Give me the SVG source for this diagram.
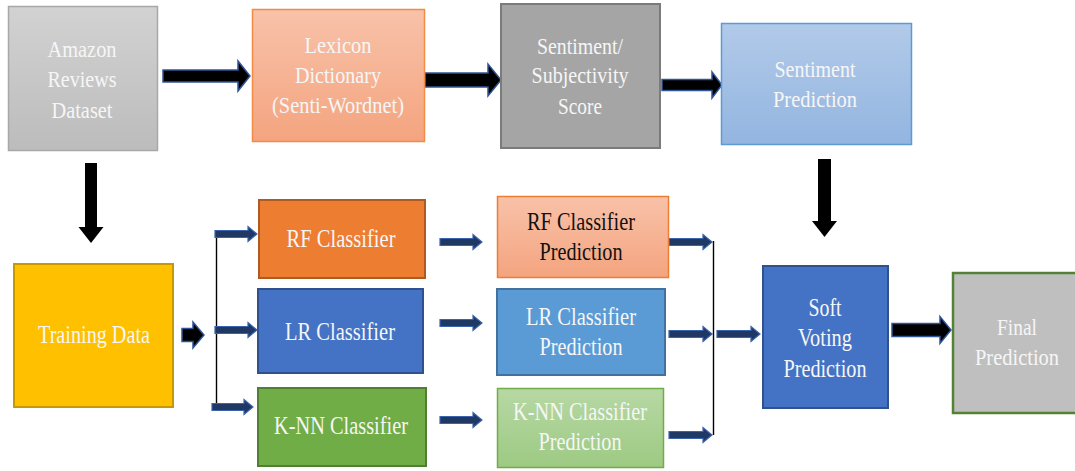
<svg xmlns="http://www.w3.org/2000/svg" width="1075" height="471" viewBox="0 0 1075 471">
<defs>
<linearGradient id="gGray" x1="0" y1="0" x2="0" y2="1"><stop offset="0" stop-color="#d2d2d2"/><stop offset="1" stop-color="#bcbcbc"/></linearGradient>
<linearGradient id="gPeach" x1="0" y1="0" x2="0" y2="1"><stop offset="0" stop-color="#f8c2a9"/><stop offset="1" stop-color="#f4a47f"/></linearGradient>
<linearGradient id="gBlue" x1="0" y1="0" x2="0" y2="1"><stop offset="0" stop-color="#b2cae9"/><stop offset="1" stop-color="#93b5e0"/></linearGradient>
<linearGradient id="gGreen" x1="0" y1="0" x2="0" y2="1"><stop offset="0" stop-color="#b7d8a4"/><stop offset="1" stop-color="#9dca83"/></linearGradient>
</defs>
<style>
text{text-anchor:middle;fill:#f6f6f6}
.t22{font-size:23px}
.t24{font-size:25px}
.dark{fill:#111}
.big{fill:#000;stroke:#2f5597;stroke-width:1.5;stroke-linejoin:miter}
.down{fill:#000}
.small{fill:#1f3864;stroke:#3b64ad;stroke-width:1.2}
.line{stroke:#000;stroke-width:1.4;fill:none}
</style>
<rect width="1075" height="471" fill="#fff"/>

<g id="connectors">
<path class="big" d="M163 70 L238 70 L238 61 L250 76 L238 91 L238 82 L163 82 Z"/>
<path class="big" d="M425 73 L488 73 L488 64 L501 80 L488 96 L488 87 L425 87 Z"/>
<path class="big" d="M662 79.5 L712 79.5 L712 72 L722 85 L712 98 L712 90.5 L662 90.5 Z"/>
<path class="down" d="M85 163 L97 163 L97 227 L103.5 227 L91 243 L78.5 227 L85 227 Z"/>
<path class="down" d="M818 159 L831 159 L831 221 L837 221 L824.5 237 L812 221 L818 221 Z"/>
<path class="big" d="M182 328.5 L193 328.5 L193 322 L204 335 L193 348 L193 341.5 L182 341.5 Z"/>
<line class="line" x1="216.5" y1="233" x2="216.5" y2="407"/>
<path class="small" d="M215 230.5 L248 230.5 L248 226.5 L257 234 L248 241.5 L248 237.5 L215 237.5 Z"/>
<path class="small" d="M215 326.5 L248 326.5 L248 322.5 L257 330 L248 337.5 L248 333.5 L215 333.5 Z"/>
<path class="small" d="M212 403.5 L244 403.5 L244 399.5 L253 407 L244 414.5 L244 410.5 L212 410.5 Z"/>
<path class="small" d="M440 238.5 L473 238.5 L473 234.5 L482 242 L473 249.5 L473 245.5 L440 245.5 Z"/>
<path class="small" d="M440 319.5 L473 319.5 L473 315.5 L482 323 L473 330.5 L473 326.5 L440 326.5 Z"/>
<path class="small" d="M440 416.5 L473 416.5 L473 412.5 L482 420 L473 427.5 L473 423.5 L440 423.5 Z"/>
<path class="small" d="M669 238.5 L703 238.5 L703 234.5 L712 242 L703 249.5 L703 245.5 L669 245.5 Z"/>
<path class="small" d="M669 330.5 L703 330.5 L703 326.5 L712 334 L703 341.5 L703 337.5 L669 337.5 Z"/>
<path class="small" d="M669 431.5 L703 431.5 L703 427.5 L712 435 L703 442.5 L703 438.5 L669 438.5 Z"/>
<line class="line" x1="713.5" y1="241" x2="713.5" y2="435"/>
<path class="small" d="M717 330.5 L751 330.5 L751 326.5 L760 334 L751 341.5 L751 337.5 L717 337.5 Z"/>
<path class="big" d="M892 323.5 L940 323.5 L940 316.5 L951 330 L940 343.5 L940 336.5 L892 336.5 Z"/>
</g>

<g font-family="Liberation Serif, Times New Roman, serif">
<g id="amazon">
<rect x="8.5" y="6.5" width="149" height="144" fill="url(#gGray)" stroke="#a8a8a8" stroke-width="1.5"/>
<text class="t22" x="82" y="57" textLength="69" lengthAdjust="spacingAndGlyphs">Amazon</text>
<text class="t22" x="82" y="87" textLength="69" lengthAdjust="spacingAndGlyphs">Reviews</text>
<text class="t22" x="82" y="118" textLength="61" lengthAdjust="spacingAndGlyphs">Dataset</text>
</g>

<g id="lexicon">
<rect x="252.5" y="9.5" width="172" height="132" fill="url(#gPeach)" stroke="#f08c45" stroke-width="1.5"/>
<text class="t22" x="338" y="53" textLength="67" lengthAdjust="spacingAndGlyphs">Lexicon</text>
<text class="t22" x="338" y="83" textLength="86" lengthAdjust="spacingAndGlyphs">Dictionary</text>
<text class="t22" x="338" y="113" textLength="132" lengthAdjust="spacingAndGlyphs">(Senti-Wordnet)</text>
</g>

<g id="score">
<rect x="501" y="4" width="159" height="144" fill="#a5a5a5" stroke="#7b7b7b" stroke-width="2"/>
<text class="t22" x="580" y="54" textLength="86" lengthAdjust="spacingAndGlyphs">Sentiment/</text>
<text class="t22" x="580" y="83" textLength="97" lengthAdjust="spacingAndGlyphs">Subjectivity</text>
<text class="t22" x="580" y="114" textLength="44" lengthAdjust="spacingAndGlyphs">Score</text>
</g>

<g id="sentiment-prediction">
<rect x="721.5" y="23.5" width="190" height="121" fill="url(#gBlue)" stroke="#5b9bd5" stroke-width="1.5"/>
<text class="t22" x="815" y="77" textLength="81" lengthAdjust="spacingAndGlyphs">Sentiment</text>
<text class="t22" x="815" y="107" textLength="84" lengthAdjust="spacingAndGlyphs">Prediction</text>
</g>

<g id="training">
<rect x="14" y="264" width="159" height="143" fill="#ffc000" stroke="#c59a00" stroke-width="2"/>
<text class="t24" x="94" y="343" textLength="112" lengthAdjust="spacingAndGlyphs">Training Data</text>
</g>

<g id="rf">
<rect x="259" y="200" width="166" height="78" fill="#ed7d31" stroke="#ae5a21" stroke-width="2"/>
<text class="t24" x="341" y="247" textLength="109" lengthAdjust="spacingAndGlyphs">RF Classifier</text>
</g>

<g id="lr">
<rect x="258" y="289" width="165" height="84" fill="#4472c4" stroke="#2f528f" stroke-width="2"/>
<text class="t24" x="340" y="340" textLength="110" lengthAdjust="spacingAndGlyphs">LR Classifier</text>
</g>

<g id="knn">
<rect x="258" y="388" width="168" height="78" fill="#70ad47" stroke="#507e32" stroke-width="2"/>
<text class="t24" x="341" y="434" textLength="134" lengthAdjust="spacingAndGlyphs">K-NN Classifier</text>
</g>

<g id="rf-pred">
<rect x="497.5" y="196.5" width="171" height="81" fill="url(#gPeach)" stroke="#ed7d31" stroke-width="1.5"/>
<text class="t24 dark" x="581" y="230" textLength="108" lengthAdjust="spacingAndGlyphs">RF Classifier</text>
<text class="t24 dark" x="581" y="260" textLength="83" lengthAdjust="spacingAndGlyphs">Prediction</text>
</g>

<g id="lr-pred">
<rect x="497" y="289" width="168" height="86" fill="#5b9bd5" stroke="#41719c" stroke-width="2"/>
<text class="t24" x="581" y="325" textLength="110" lengthAdjust="spacingAndGlyphs">LR Classifier</text>
<text class="t24" x="581" y="355" textLength="83" lengthAdjust="spacingAndGlyphs">Prediction</text>
</g>

<g id="knn-pred">
<rect x="497.5" y="388.5" width="166" height="79" fill="url(#gGreen)" stroke="#70ad47" stroke-width="1.5"/>
<text class="t24" x="580" y="420" textLength="134" lengthAdjust="spacingAndGlyphs">K-NN Classifier</text>
<text class="t24" x="580" y="450" textLength="83" lengthAdjust="spacingAndGlyphs">Prediction</text>
</g>

<g id="soft-voting">
<rect x="763" y="266" width="125" height="142" fill="#4472c4" stroke="#2f528f" stroke-width="2"/>
<text class="t24" x="825" y="316" textLength="33" lengthAdjust="spacingAndGlyphs">Soft</text>
<text class="t24" x="825" y="346" textLength="54" lengthAdjust="spacingAndGlyphs">Voting</text>
<text class="t24" x="825" y="377" textLength="83" lengthAdjust="spacingAndGlyphs">Prediction</text>
</g>

<g id="final">
<rect x="953" y="273" width="130" height="140" fill="#bfbfbf" stroke="#548235" stroke-width="2.5"/>
<text class="t22" x="1017" y="335" textLength="40" lengthAdjust="spacingAndGlyphs">Final</text>
<text class="t22" x="1017" y="365" textLength="84" lengthAdjust="spacingAndGlyphs">Prediction</text>
</g>
</g>
</svg>
